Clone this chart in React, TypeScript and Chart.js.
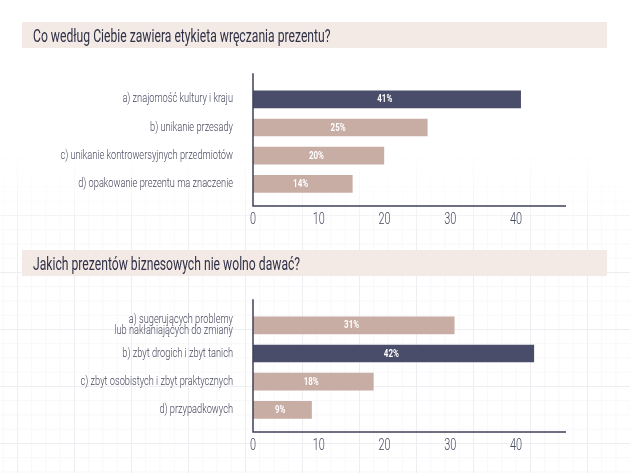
import React, { useEffect, useRef } from 'react';
import { Chart, registerables } from 'chart.js';

Chart.register(...registerables);

// chart 1: Co według Ciebie zawiera etykieta wręczania prezentu?
const title1 = 'Co według Ciebie zawiera etykieta wręczania prezentu?';
const categories1 = [
  'a) znajomość kultury i kraju',
  'b) unikanie przesady',
  'c) unikanie kontrowersyjnych przedmiotów',
  'd) opakowanie prezentu ma znaczenie',
];
const values1 = [40.7, 26.5, 19.9, 15.1];
const labels1 = ['41%', '25%', '20%', '14%'];
const highlight1 = [true, false, false, false];

// chart 2: Jakich prezentów biznesowych nie wolno dawać?
const title2 = 'Jakich prezentów biznesowych nie wolno dawać?';
const categories2 = [
  ['a) sugerujących problemy', 'lub nakłaniających do zmiany'],
  'b) zbyt drogich i zbyt tanich',
  'c) zbyt osobistych i zbyt praktycznych',
  'd) przypadkowych',
];
const values2 = [30.6, 42.7, 18.3, 8.9];
const labels2 = ['31%', '42%', '18%', '9%'];
const highlight2 = [false, true, false, false];

const xTicks = [0, 10, 20, 30, 40];
const xMax = 47.6;

const DARK = '#4a4d6a';
const LIGHT = '#c8ada5';
const AXIS = '#3f4259';
const TEXT = '#45475c';
const FONT = "Roboto, 'Noto Sans', sans-serif";

// the original uses a narrow typeface, so text is squeezed horizontally
function drawNarrow(ctx: CanvasRenderingContext2D, text: string, x: number, y: number, squeeze: number, align: CanvasTextAlign) {
  ctx.save();
  ctx.translate(x, y);
  ctx.scale(squeeze, 1);
  ctx.textAlign = align;
  ctx.fillText(text, 0, 0);
  ctx.restore();
}

interface BarChartProps {
  categories: (string | string[])[];
  values: number[];
  labels: string[];
  highlight: boolean[];
  top: number;
  height: number;
  padTop: number;
}

const HBarChart: React.FC<BarChartProps> = ({ categories, values, labels, highlight, top, height, padTop }) => {
  const chartRef = useRef<HTMLCanvasElement | null>(null);

  useEffect(() => {
    if (!chartRef.current) return;

    // axis lines stick out past the bars a little
    const axisLines = {
      id: 'axisLines',
      afterDraw(chart: any) {
        const { ctx, chartArea } = chart;
        const yBottom = chartArea.bottom + 8;
        ctx.save();
        ctx.strokeStyle = AXIS;
        ctx.lineWidth = 1.5;
        ctx.beginPath();
        ctx.moveTo(chartArea.left, chartArea.top - 12);
        ctx.lineTo(chartArea.left, yBottom);
        ctx.lineTo(chartArea.right, yBottom);
        ctx.stroke();
        ctx.restore();
      },
    };

    const axisText = {
      id: 'axisText',
      afterDraw(chart: any) {
        const { ctx, chartArea, scales } = chart;
        ctx.save();
        ctx.fillStyle = TEXT;
        ctx.textBaseline = 'middle';

        ctx.font = `300 12px ${FONT}`;
        categories.forEach((cat, i) => {
          const lines = Array.isArray(cat) ? cat : [cat];
          const y = scales.y.getPixelForTick(i);
          lines.forEach((line, j) => {
            const yy = y + (j - (lines.length - 1) / 2) * 11.5;
            drawNarrow(ctx, line, chartArea.left - 20, yy, 0.77, 'right');
          });
        });

        ctx.font = `300 17px ${FONT}`;
        scales.x.ticks.forEach((t: any) => {
          const x = scales.x.getPixelForValue(t.value);
          drawNarrow(ctx, String(t.value), x, chartArea.bottom + 8 + 13.5, 0.64, 'center');
        });
        ctx.restore();
      },
    };

    const barLabels = {
      id: 'barLabels',
      afterDatasetsDraw(chart: any) {
        const { ctx } = chart;
        const meta = chart.getDatasetMeta(0);
        ctx.save();
        ctx.fillStyle = '#ffffff';
        ctx.font = `700 10.5px ${FONT}`;
        ctx.textBaseline = 'middle';
        meta.data.forEach((bar: any, i: number) => {
          drawNarrow(ctx, labels[i], (bar.base + bar.x) / 2 - 2, bar.y + 0.5, 0.76, 'center');
        });
        ctx.restore();
      },
    };

    const chart = new Chart(chartRef.current, {
      type: 'bar',
      data: {
        labels: categories,
        datasets: [
          {
            data: values,
            backgroundColor: highlight.map(h => (h ? DARK : LIGHT)),
            barThickness: 17,
          },
        ],
      },
      options: {
        indexAxis: 'y',
        animation: false,
        responsive: false,
        maintainAspectRatio: false,
        layout: { padding: { top: padTop, right: 64, left: 0, bottom: 0 } },
        plugins: { legend: { display: false }, tooltip: { enabled: false } },
        scales: {
          x: {
            min: 0,
            max: xMax,
            afterBuildTicks: (scale: any) => {
              scale.ticks = xTicks.map(v => ({ value: v }));
            },
            afterFit: (scale: any) => {
              scale.height = height - padTop - 112.8;
            },
            grid: { display: false, drawTicks: false },
            border: { display: false },
            ticks: { display: false },
          },
          y: {
            afterFit: (scale: any) => {
              scale.width = 253;
            },
            grid: { display: false, drawTicks: false },
            border: { display: false },
            ticks: { display: false },
          },
        },
      },
      plugins: [axisLines, axisText, barLabels],
    });

    return () => {
      chart.destroy();
    };
  }, [categories, values, labels, highlight, height, padTop]);

  return (
    <canvas
      ref={chartRef}
      width={630}
      height={height}
      style={{ position: 'absolute', left: 0, top, width: 630, height }}
    />
  );
};

const Banner: React.FC<{ text: string; top: number }> = ({ text, top }) => (
  <div
    style={{
      position: 'absolute',
      left: 22,
      top,
      width: 585,
      height: 26,
      background: '#f3e9e5',
      boxSizing: 'border-box',
    }}
  >
    <span
      style={{
        position: 'absolute',
        left: 11,
        top: 0,
        color: '#2f3147',
        fontFamily: FONT,
        fontSize: 19,
        lineHeight: '27px',
        whiteSpace: 'nowrap',
        transform: 'scaleX(0.64)',
        transformOrigin: 'left center',
      }}
    >
      {text}
    </span>
  </div>
);

export default function App() {
  return (
    <div
      style={{
        position: 'absolute',
        left: 0,
        top: 0,
        width: 630,
        height: 473,
        background: '#ffffff',
        overflow: 'hidden',
      }}
    >
      <div
        style={{
          position: 'absolute',
          left: 0,
          top: 150,
          width: 630,
          height: 323,
          backgroundImage:
            'linear-gradient(to right, #eeeef2 1px, transparent 1px), linear-gradient(to bottom, #eeeef2 1px, transparent 1px), linear-gradient(to right, #f8f8fa 1px, transparent 1px), linear-gradient(to bottom, #f8f8fa 1px, transparent 1px)',
          backgroundSize: '57px 57px, 57px 57px, 14.25px 14.25px, 14.25px 14.25px',
          backgroundPosition: '17px 8px',
          WebkitMaskImage: 'linear-gradient(to bottom, transparent 0px, black 90px)',
          maskImage: 'linear-gradient(to bottom, transparent 0px, black 90px)',
        }}
      />
      <Banner text={title1} top={22} />
      <HBarChart
        categories={categories1}
        values={values1}
        labels={labels1}
        highlight={highlight1}
        top={0}
        height={240}
        padTop={85.2}
      />
      <Banner text={title2} top={250} />
      <HBarChart
        categories={categories2}
        values={values2}
        labels={labels2}
        highlight={highlight2}
        top={228}
        height={245}
        padTop={83.2}
      />
    </div>
  );
}
